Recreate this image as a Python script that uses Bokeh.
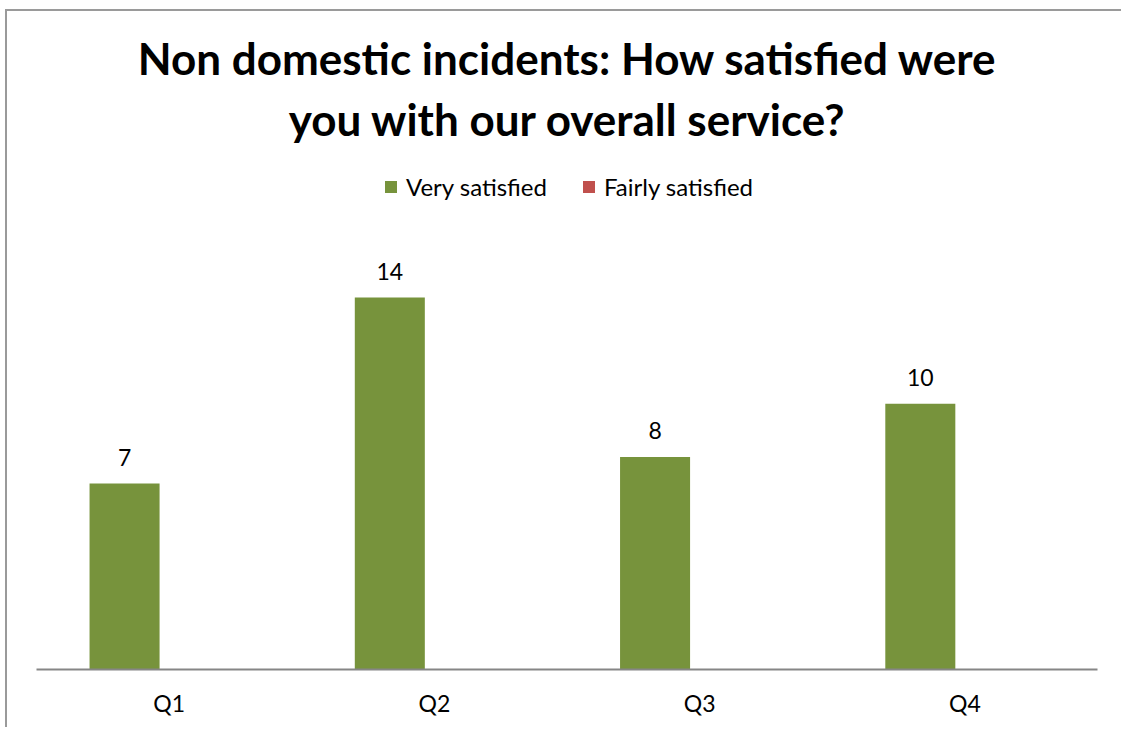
from bokeh.plotting import figure
from bokeh.models import (ColumnDataSource, FactorRange, Range1d, Label, LabelSet,
                          Legend, LegendItem)
from bokeh.core.properties import value
from bokeh.transform import dodge
from bokeh.embed import file_html
from bokeh.resources import INLINE

quarters = ["Q1", "Q2", "Q3", "Q4"]
very_satisfied = [7, 14, 8, 10]
fairly_satisfied = [0, 0, 0, 0]
series_names = ["Very satisfied", "Fairly satisfied"]
title_lines = ["Non domestic incidents: How satisfied were", "you with our overall service?"]

GREEN = "#77933C"
RED = "#C0504D"
FONT = "Lato"

src = ColumnDataSource(dict(q=quarters, very=very_satisfied, fairly=fairly_satisfied,
                            very_txt=[str(v) for v in very_satisfied]))

p = figure(width=1116, height=718, x_range=FactorRange(*quarters), y_range=Range1d(0, 24.77),
           output_backend="svg", toolbar_location=None,
           min_border_left=29, min_border_right=26, min_border_top=0, min_border_bottom=60)
p.styles = {"margin-left": "5px", "margin-top": "9px",
            "border-left": "2px solid #9a9a9a", "border-top": "2px solid #9a9a9a"}
p.outline_line_color = None
p.grid.visible = False
p.yaxis.visible = False
p.xaxis.axis_line_color = "#868686"
p.xaxis.axis_line_width = 2
p.xaxis.major_tick_line_color = None
p.xaxis.minor_tick_line_color = None
p.xaxis.major_label_text_font = FONT
p.xaxis.major_label_text_font_size = "23px"
p.xaxis.major_label_text_color = "#000000"
p.xaxis.major_label_standoff = 13

r1 = p.vbar(x=dodge("q", -0.168, range=p.x_range), top="very", width=0.264, source=src,
            fill_color=GREEN, line_color=None)
r2 = p.vbar(x=dodge("q", 0.097, range=p.x_range), top="fairly", width=0.264, source=src,
            fill_color=RED, line_color=None)

labels = LabelSet(x=dodge("q", -0.168, range=p.x_range), y="very", text="very_txt", source=src,
                  text_align="center", text_baseline="alphabetic", y_offset=18,
                  text_font=value(FONT), text_font_size="23px", text_color="#000000")
p.add_layout(labels)

legend = Legend(items=[LegendItem(label=series_names[0], renderers=[r1]),
                       LegendItem(label=series_names[1], renderers=[r2])],
                orientation="horizontal", location=(347, 468),
                label_text_font=FONT, label_text_font_size="24px", label_text_color="#000000",
                glyph_width=15, glyph_height=15, label_standoff=8, spacing=34,
                border_line_color=None, background_fill_alpha=0, padding=0, margin=0)
p.add_layout(legend, "center")

for t, yb in zip(title_lines, [612, 551]):
    p.add_layout(Label(x=531, y=yb, x_units="screen", y_units="screen", text=t,
                       text_align="center", text_baseline="alphabetic",
                       text_font=FONT, text_font_style="bold", text_font_size="44px",
                       text_color="#000000"))

open("out.html", "w").write(file_html(p, INLINE))
